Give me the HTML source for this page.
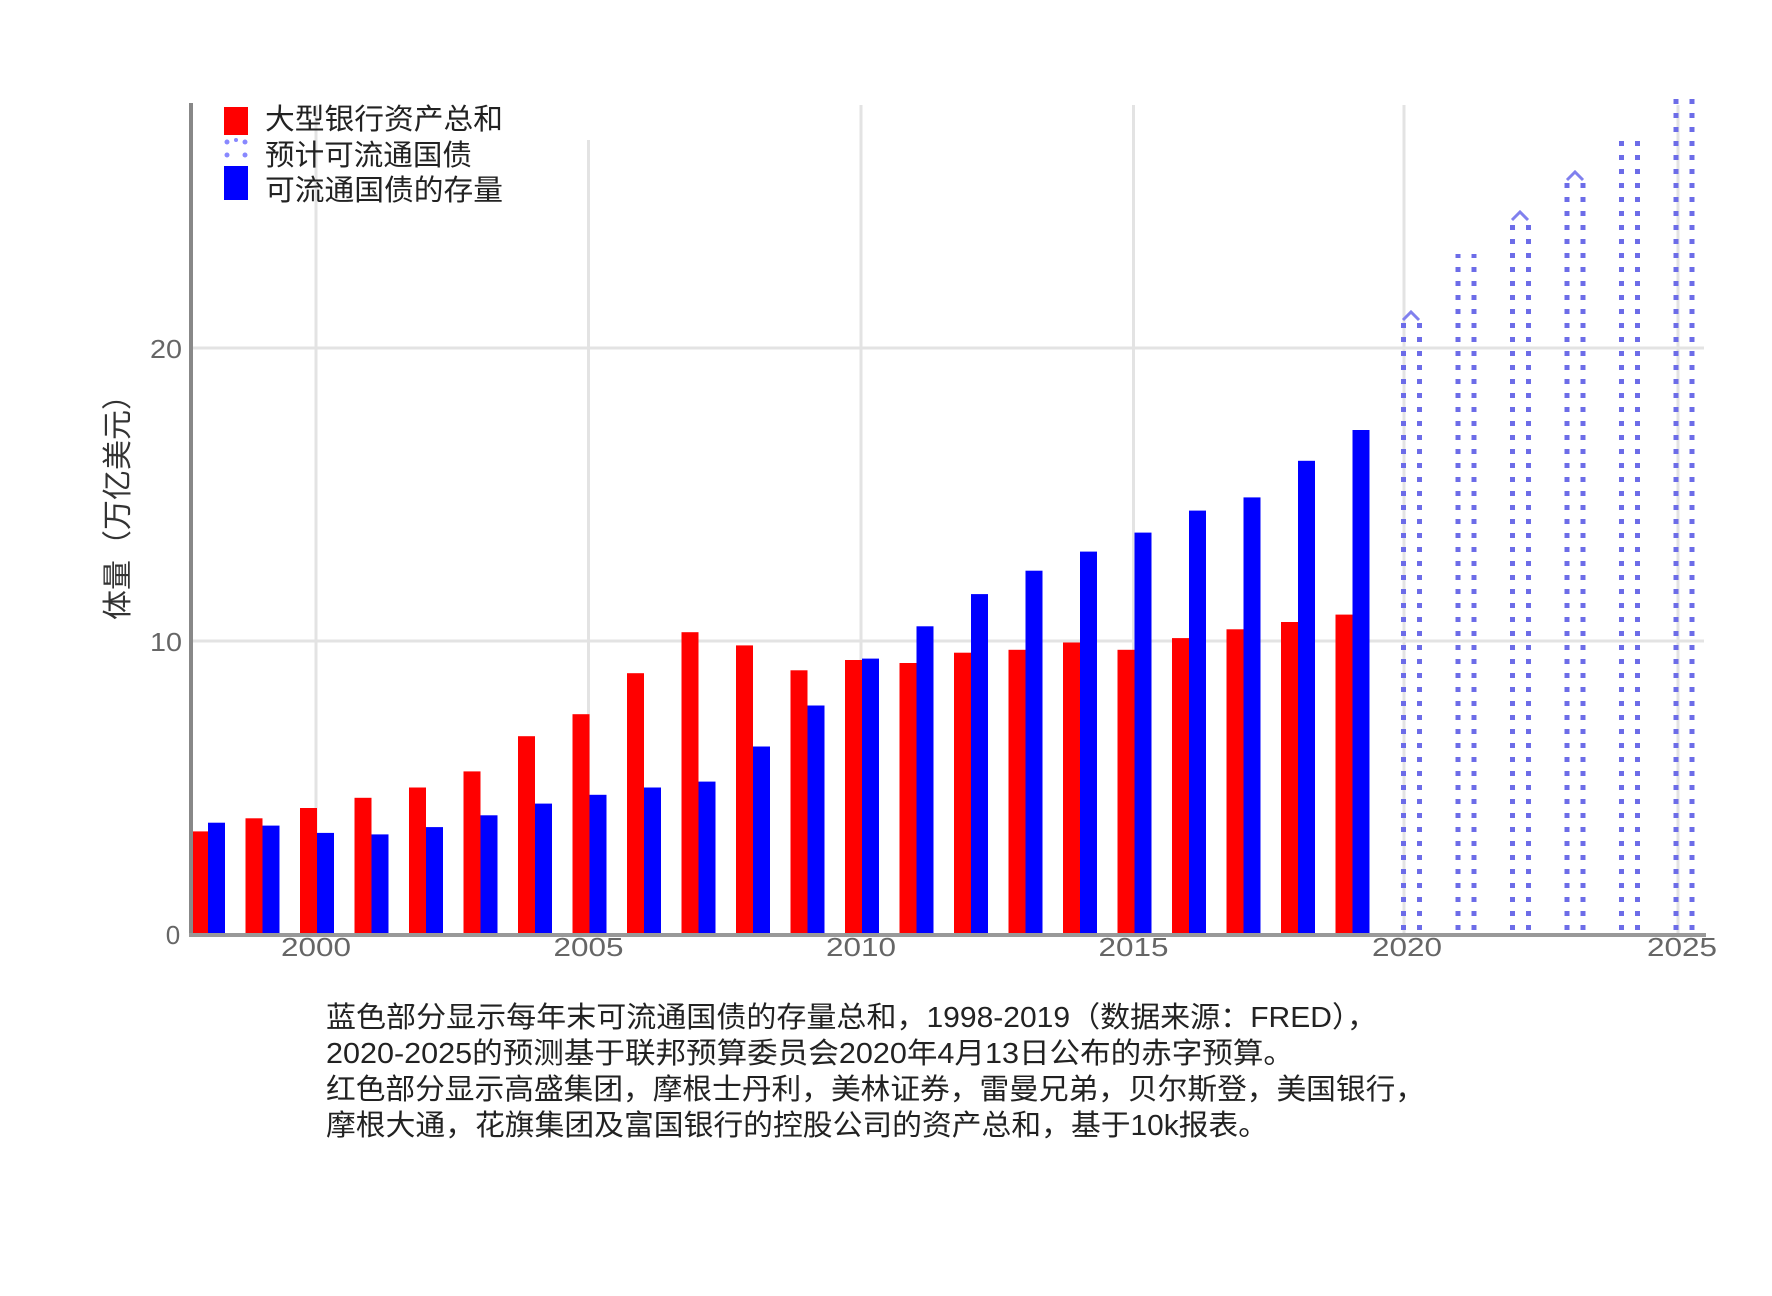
<!DOCTYPE html>
<html><head><meta charset="utf-8"><style>
html,body{margin:0;padding:0;background:#fff;}
svg{display:block;}
</style></head><body>
<svg width="1772" height="1296" viewBox="0 0 1772 1296" xmlns="http://www.w3.org/2000/svg" font-family="'Liberation Sans','Noto Sans CJK SC',sans-serif">
<rect width="1772" height="1296" fill="#fff"/>
<g stroke="#e3e3e3" stroke-width="3">
<line x1="316" y1="105" x2="316" y2="934"/>
<line x1="588.5" y1="140" x2="588.5" y2="934"/>
<line x1="861" y1="105" x2="861" y2="934"/>
<line x1="1133.5" y1="105" x2="1133.5" y2="934"/>
<line x1="1404" y1="105" x2="1404" y2="934"/>
<line x1="1678" y1="105" x2="1678" y2="934"/>
<line x1="191" y1="348" x2="1704" y2="348"/>
<line x1="191" y1="641" x2="1704" y2="641"/>
</g>
<g fill="#ff0000">
<rect x="191" y="831.4" width="17" height="102.6"/>
<rect x="245.5" y="818.3" width="17" height="115.7"/>
<rect x="300" y="808" width="17" height="126"/>
<rect x="354.5" y="797.8" width="17" height="136.2"/>
<rect x="409" y="787.5" width="17" height="146.5"/>
<rect x="463.5" y="771.4" width="17" height="162.6"/>
<rect x="518" y="736.2" width="17" height="197.8"/>
<rect x="572.5" y="714.2" width="17" height="219.8"/>
<rect x="627" y="673.2" width="17" height="260.8"/>
<rect x="681.5" y="632.2" width="17" height="301.8"/>
<rect x="736" y="645.4" width="17" height="288.6"/>
<rect x="790.5" y="670.3" width="17" height="263.7"/>
<rect x="845" y="660" width="17" height="274"/>
<rect x="899.5" y="663" width="17" height="271"/>
<rect x="954" y="652.7" width="17" height="281.3"/>
<rect x="1008.5" y="649.8" width="17" height="284.2"/>
<rect x="1063" y="642.5" width="17" height="291.5"/>
<rect x="1117.5" y="649.8" width="17" height="284.2"/>
<rect x="1172" y="638.1" width="17" height="295.9"/>
<rect x="1226.5" y="629.3" width="17" height="304.7"/>
<rect x="1281" y="622" width="17" height="312"/>
<rect x="1335.5" y="614.6" width="17" height="319.4"/>
</g>
<g fill="#0000ff">
<rect x="208" y="822.7" width="17" height="111.3"/>
<rect x="262.5" y="825.6" width="17" height="108.4"/>
<rect x="317" y="832.9" width="17" height="101.1"/>
<rect x="371.5" y="834.4" width="17" height="99.6"/>
<rect x="426" y="827.1" width="17" height="106.9"/>
<rect x="480.5" y="815.3" width="17" height="118.7"/>
<rect x="535" y="803.6" width="17" height="130.4"/>
<rect x="589.5" y="794.8" width="17" height="139.2"/>
<rect x="644" y="787.5" width="17" height="146.5"/>
<rect x="698.5" y="781.6" width="17" height="152.4"/>
<rect x="753" y="746.5" width="17" height="187.5"/>
<rect x="807.5" y="705.5" width="17" height="228.5"/>
<rect x="862" y="658.6" width="17" height="275.4"/>
<rect x="916.5" y="626.3" width="17" height="307.7"/>
<rect x="971" y="594.1" width="17" height="339.9"/>
<rect x="1025.5" y="570.7" width="17" height="363.3"/>
<rect x="1080" y="551.6" width="17" height="382.4"/>
<rect x="1134.5" y="532.6" width="17" height="401.4"/>
<rect x="1189" y="510.6" width="17" height="423.4"/>
<rect x="1243.5" y="497.4" width="17" height="436.6"/>
<rect x="1298" y="460.8" width="17" height="473.2"/>
<rect x="1352.5" y="430" width="17" height="504"/>
</g>
<g stroke="#6c6ce8" stroke-width="5" stroke-dasharray="5 9" fill="none">
<line x1="1403.5" y1="930" x2="1403.5" y2="318"/><line x1="1419.5" y1="930" x2="1419.5" y2="318"/>
<line x1="1458" y1="930" x2="1458" y2="254"/><line x1="1474" y1="930" x2="1474" y2="254"/>
<line x1="1512.5" y1="930" x2="1512.5" y2="218"/><line x1="1528.5" y1="930" x2="1528.5" y2="218"/>
<line x1="1567" y1="930" x2="1567" y2="178"/><line x1="1583" y1="930" x2="1583" y2="178"/>
<line x1="1621.5" y1="930" x2="1621.5" y2="136"/><line x1="1637.5" y1="930" x2="1637.5" y2="136"/>
<line x1="1676" y1="930" x2="1676" y2="98"/><line x1="1692" y1="930" x2="1692" y2="98"/>
</g>
<g stroke="#8080ee" stroke-width="3" fill="none">
<polyline points="1403,320 1411,312 1419,320"/>
<polyline points="1512,220 1520,212 1528,220"/>
<polyline points="1567,180 1575,172 1583,180"/>
</g>
<line x1="191" y1="103" x2="191" y2="936" stroke="#888" stroke-width="4"/>
<line x1="189" y1="935" x2="1706" y2="935" stroke="#999" stroke-width="4"/>
<g fill="#666" font-size="26" text-anchor="middle">
<text x="166" y="358" textLength="32" lengthAdjust="spacingAndGlyphs">20</text>
<text x="166" y="651" textLength="32" lengthAdjust="spacingAndGlyphs">10</text>
<text x="173" y="944">0</text>
<text x="316" y="956" textLength="70" lengthAdjust="spacingAndGlyphs">2000</text>
<text x="588.5" y="956" textLength="70" lengthAdjust="spacingAndGlyphs">2005</text>
<text x="861" y="956" textLength="70" lengthAdjust="spacingAndGlyphs">2010</text>
<text x="1133.5" y="956" textLength="70" lengthAdjust="spacingAndGlyphs">2015</text>
<text x="1407" y="956" textLength="70" lengthAdjust="spacingAndGlyphs">2020</text>
<text x="1682" y="956" textLength="70" lengthAdjust="spacingAndGlyphs">2025</text>
</g>
<text transform="translate(128,500) rotate(-90)" text-anchor="middle" font-size="30" fill="#333">体量（万亿美元）</text>
<rect x="224" y="107" width="24" height="28" fill="#ff0000"/>
<g fill="#8888ff"><circle cx="227" cy="142" r="2.5"/><circle cx="245" cy="142" r="2.5"/><circle cx="227" cy="155" r="2.5"/><circle cx="245" cy="155" r="2.5"/><circle cx="236" cy="140" r="2"/></g>
<rect x="224" y="166" width="24" height="34" fill="#0000ff"/>
<g font-size="29" fill="#222">
<text x="265" y="129" textLength="238" lengthAdjust="spacingAndGlyphs">大型银行资产总和</text>
<text x="265" y="165" textLength="207" lengthAdjust="spacingAndGlyphs">预计可流通国债</text>
<text x="265" y="200" textLength="238" lengthAdjust="spacingAndGlyphs">可流通国债的存量</text>
</g>
<g font-size="29" fill="#222">
<text x="326" y="1027" textLength="1051" lengthAdjust="spacingAndGlyphs">蓝色部分显示每年末可流通国债的存量总和，1998-2019（数据来源：FRED），</text>
<text x="326" y="1063" textLength="968" lengthAdjust="spacingAndGlyphs">2020-2025的预测基于联邦预算委员会2020年4月13日公布的赤字预算。</text>
<text x="326" y="1099" textLength="1099" lengthAdjust="spacingAndGlyphs">红色部分显示高盛集团，摩根士丹利，美林证券，雷曼兄弟，贝尔斯登，美国银行，</text>
<text x="326" y="1135" textLength="942" lengthAdjust="spacingAndGlyphs">摩根大通，花旗集团及富国银行的控股公司的资产总和，基于10k报表。</text>
</g>
</svg>
</body></html>
